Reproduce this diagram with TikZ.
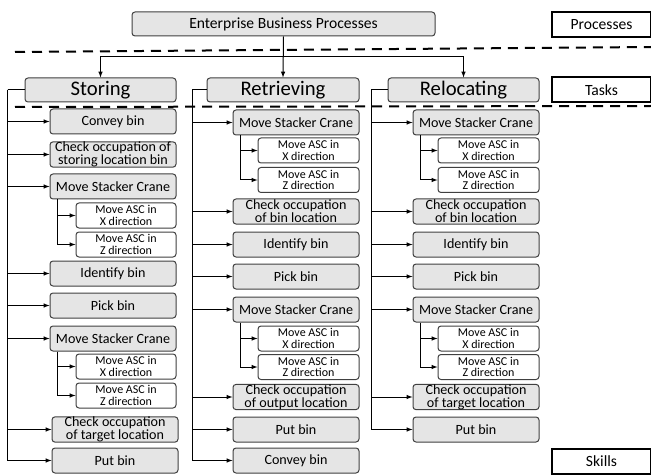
\documentclass[tikz,border=0pt]{standalone}
\usepackage{fontspec}
\setmainfont{Carlito}

\begin{document}
\begin{tikzpicture}[x=1pt, y=-1pt, line width=1pt]
    \tikzstyle{every node}=[font=\fontsize{14.1}{11.8}\selectfont, align=center]
    \tikzset{
        n/.style={draw=black!75, rounded corners=3pt, fill=black!10, inner sep=0pt, minimum height=25pt, minimum width=126pt},
        n2/.style={n, fill=white, minimum width=100pt, font=\fontsize{12}{11.6}\selectfont},
        n3/.style={n, minimum width=151pt, minimum height=24pt, font=\fontsize{20.7}{24}\selectfont},
        lbl/.style={draw, line width=2pt, minimum width=99pt, minimum height=25pt, inner sep=0pt, font=\fontsize{15.6}{18}\selectfont},
        sep/.style={line width=2pt, dash pattern=on 10pt off 7pt}
        }
    \useasboundingbox (0,0) rectangle (651,476);

    %process
    \node (ent) [n, minimum width=303pt, minimum height=24pt, font=\fontsize{15.6}{18}\selectfont] at (283.5,24) {Enterprise Business Processes};

    %levels
    \node (proc) [lbl] at (601.5,24.5) {Processes};
    \node (tasks) [lbl] at (601.5,90) {Tasks};
    \node (skills) [lbl] at (601.5,461) {Skills};
    \coordinate (sepa1) at (15,52);
    \coordinate (sepa2) at (651,47);
    \coordinate (sepb1) at (15,107);
    \coordinate (sepb2) at (651,106);

    %tasks
    \node (sto) [n3] at (100.5,90) {Storing};
    \node (ret) [n3, minimum width=152pt] at (283,90) {Retrieving};
    \node (rel) [n3] at (463.5,90) {Relocating};

    %Storing skills
    \node (convS) [n] at (113,121.5) {Convey bin};
    \node (chkS) [n] at (113,154.5) {Check occupation of\\storing location bin};
    \node (mscS1) [n] at (113,186.5) {Move Stacker Crane};
    \node (xS1) [n2] at (126,215.5) {Move ASC in\\X direction};
    \node (zS1) [n2] at (126,244.5) {Move ASC in\\Z direction};
    \node (idS) [n] at (113,273.5) {Identify bin};
    \node (pickS) [n] at (113,305.5) {Pick bin};
    \node (mscS2) [n] at (113,338.5) {Move Stacker Crane};
    \node (xS2) [n2] at (126,366.5) {Move ASC in\\X direction};
    \node (zS2) [n2] at (126,395.5) {Move ASC in\\Z direction};
    \node (chkS2) [n] at (115,429.5) {Check occupation\\of target location};
    \node (putS) [n] at (115,460.5) {Put bin};

    %Retrieving skills
    \node (mscR1) [n] at (296,122.5) {Move Stacker Crane};
    \node (xR1) [n2, minimum width=101pt] at (308.5,150.5) {Move ASC in\\X direction};
    \node (zR1) [n2, minimum width=101pt] at (308.5,180) {Move ASC in\\Z direction};
    \node (chkR) [n] at (296,211.5) {Check occupation\\of bin location};
    \node (idR) [n] at (296,244.5) {Identify bin};
    \node (pickR) [n] at (296,276.5) {Pick bin};
    \node (mscR2) [n] at (296,309.5) {Move Stacker Crane};
    \node (xR2) [n2, minimum width=101pt] at (308.5,338.5) {Move ASC in\\X direction};
    \node (zR2) [n2, minimum width=101pt] at (308.5,367) {Move ASC in\\Z direction};
    \node (chkR2) [n] at (296,397) {Check occupation\\of output location};
    \node (putR) [n] at (296,429.5) {Put bin};
    \node (convR) [n] at (296,460.5) {Convey bin};

    %Relocating skills
    \node (mscL1) [n] at (476,122.5) {Move Stacker Crane};
    \node (xL1) [n2, minimum width=101pt] at (488.5,150.5) {Move ASC in\\X direction};
    \node (zL1) [n2, minimum width=101pt] at (488.5,180) {Move ASC in\\Z direction};
    \node (chkL) [n] at (476,211.5) {Check occupation\\of bin location};
    \node (idL) [n] at (476,244.5) {Identify bin};
    \node (pickL) [n] at (476,276.5) {Pick bin};
    \node (mscL2) [n] at (476,309.5) {Move Stacker Crane};
    \node (xL2) [n2, minimum width=101pt] at (488.5,338.5) {Move ASC in\\X direction};
    \node (zL2) [n2, minimum width=101pt] at (488.5,367) {Move ASC in\\Z direction};
    \node (chkL2) [n] at (476,397) {Check occupation\\of target location};
    \node (putL) [n] at (476,429.5) {Put bin};

    %separators
    \draw[sep] (sepa1) -- (sepa2);
    \draw[sep] (sepb1) -- (sepb2);

    %process to tasks
    \coordinate (br) at (283.5,57);
    \draw[-latex] (ent.south) -- (ret.north);
    \draw[-latex] (br) -| (sto.north);
    \draw[-latex] (br) -| (rel.north);

    %Storing
    \coordinate (spS) at (7.5,90);
    \draw (sto.west) -- (spS);
    \draw[-latex] (spS) |- (convS.west);
    \draw[-latex] (spS) |- (chkS.west);
    \draw[-latex] (spS) |- (mscS1.west);
    \draw[-latex] (spS) |- (idS.west);
    \draw[-latex] (spS) |- (pickS.west);
    \draw[-latex] (spS) |- (mscS2.west);
    \draw[-latex] (spS) |- (chkS2.west);
    \draw[-latex] (spS) |- (putS.west);
    \draw[-latex] ([xshift=8pt]mscS1.south west) |- (xS1.west);
    \draw[-latex] ([xshift=8pt]mscS1.south west) |- (zS1.west);
    \draw[-latex] ([xshift=8pt]mscS2.south west) |- (xS2.west);
    \draw[-latex] ([xshift=8pt]mscS2.south west) |- (zS2.west);

    %Retrieving
    \coordinate (spR) at (192,90);
    \draw (ret.west) -- (spR);
    \draw[-latex] (spR) |- (mscR1.west);
    \draw[-latex] (spR) |- (chkR.west);
    \draw[-latex] (spR) |- (idR.west);
    \draw[-latex] (spR) |- (pickR.west);
    \draw[-latex] (spR) |- (mscR2.west);
    \draw[-latex] (spR) |- (chkR2.west);
    \draw[-latex] (spR) |- (putR.west);
    \draw[-latex] (spR) |- (convR.west);
    \draw[-latex] ([xshift=8pt]mscR1.south west) |- (xR1.west);
    \draw[-latex] ([xshift=8pt]mscR1.south west) |- (zR1.west);
    \draw[-latex] ([xshift=8pt]mscR2.south west) |- (xR2.west);
    \draw[-latex] ([xshift=8pt]mscR2.south west) |- (zR2.west);

    %Relocating
    \coordinate (spL) at (371,90);
    \draw (rel.west) -- (spL);
    \draw[-latex] (spL) |- (mscL1.west);
    \draw[-latex] (spL) |- (chkL.west);
    \draw[-latex] (spL) |- (idL.west);
    \draw[-latex] (spL) |- (pickL.west);
    \draw[-latex] (spL) |- (mscL2.west);
    \draw[-latex] (spL) |- (chkL2.west);
    \draw[-latex] (spL) |- (putL.west);
    \draw[-latex] ([xshift=8pt]mscL1.south west) |- (xL1.west);
    \draw[-latex] ([xshift=8pt]mscL1.south west) |- (zL1.west);
    \draw[-latex] ([xshift=8pt]mscL2.south west) |- (xL2.west);
    \draw[-latex] ([xshift=8pt]mscL2.south west) |- (zL2.west);
\end{tikzpicture}
\end{document}
